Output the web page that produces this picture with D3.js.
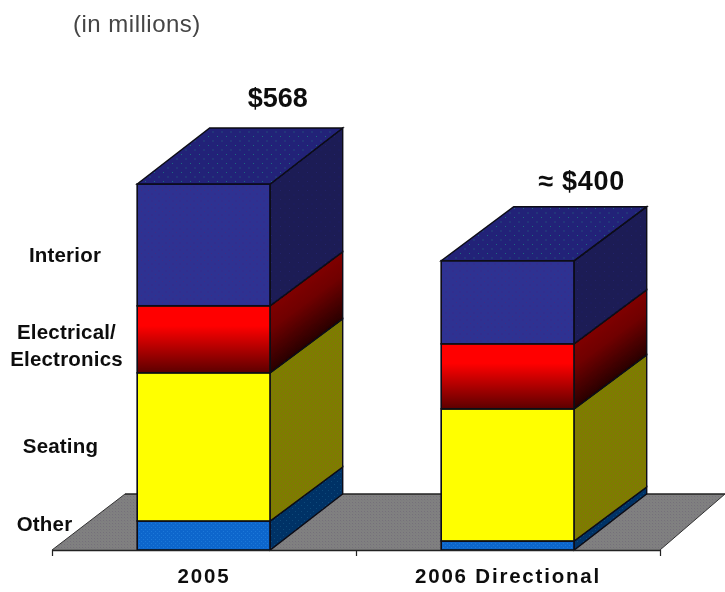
<!DOCTYPE html>
<html><head><meta charset="utf-8">
<script src="https://cdn.jsdelivr.net/npm/d3@7"></script>
<style>html,body{margin:0;padding:0;background:#fff}svg{display:block}text{font-family:"Liberation Sans",Arial,sans-serif}</style>
</head><body><div id="c"></div>
<script>
const categories = ["2005", "2006 Directional"];
const seriesNames = ["Other", "Seating", "Electrical/Electronics", "Interior"];
const other = [45, 14];
const seating = [230, 205];
const electrical = [104, 101];
const interior = [189, 129];
const totals = ["$568", "≈ $400"];
const title = "(in millions)";
const seriesLabels = [["Other"], ["Seating"], ["Electrical/", "Electronics"], ["Interior"]];

const W = 725, H = 592;
const svg = d3.select("#c").append("svg").attr("width", W).attr("height", H);
const defs = svg.append("defs");
const soft = defs.append("filter").attr("id", "soft").attr("x", 0).attr("y", 0).attr("width", 1).attr("height", 1);
soft.append("feGaussianBlur").attr("stdDeviation", 0.45);

const y = d3.scaleLinear().domain([0, 568]).range([550, 184]);
const xEdge = d3.scaleLinear().domain([0, 2]).range([52, 660]);
const x = d3.scaleBand().domain(categories).range([52, 660]).paddingInner(0).paddingOuter(0);
const barW = 133, depthX = 72.5, depthFloor = 56, depthInner = 54, depthTop = [56, 54];
const barX = c => x(c) + (x.bandwidth() - barW) / 2 - 0.3;

function stipple(id, base, dot, size) {
  const p = defs.append("pattern").attr("id", id).attr("patternUnits", "userSpaceOnUse").attr("width", size).attr("height", size);
  p.append("rect").attr("width", size).attr("height", size).attr("fill", base);
  p.append("rect").attr("x", 1).attr("y", 1).attr("width", 1).attr("height", 1).attr("fill", dot);
  p.append("rect").attr("x", 1 + size / 2).attr("y", 1 + size / 2).attr("width", 1).attr("height", 1).attr("fill", dot);
}
stipple("pFloor", "#808080", "#74707a", 3);
stipple("pBlue", "#2e3092", "#412c84", 7);
stipple("pBlueTop", "#232378", "#1f6a80", 9);
stipple("pBlueSide", "#1a1a55", "#22226a", 9);
stipple("pOlive", "#7d7d00", "#8a6c0a", 4);
stipple("pSky", "#0f66cc", "#1a78d8", 4);
stipple("pNavy", "#003366", "#0a4a7a", 6);

const front = { Other: "url(#pSky)", Seating: "#ffff00", Interior: "url(#pBlue)" };
const side = { Other: "url(#pNavy)", Seating: "url(#pOlive)", Interior: "url(#pBlueSide)" };

const g = svg.append("g").attr("filter", "url(#soft)");

// floor
const floorPts = [[xEdge(0), y(0)], [xEdge(0) + depthX + 0.5, y(0) - depthFloor], [xEdge(2) + 65, y(0) - depthFloor], [xEdge(2), y(0)]];
g.append("path").attr("d", d3.line()(floorPts) + "Z").attr("fill", "url(#pFloor)");
g.append("line").attr("x1", floorPts[1][0]).attr("x2", floorPts[2][0]).attr("y1", floorPts[1][1]).attr("y2", floorPts[1][1]).attr("stroke", "#222").attr("stroke-width", 1.3);
g.append("path").attr("d", d3.line()([floorPts[0], floorPts[1]])).attr("stroke", "#333").attr("fill", "none");
g.append("path").attr("d", d3.line()([floorPts[2], floorPts[3]])).attr("stroke", "#333").attr("fill", "none");

const stackInput = categories.map((c, i) => ({ c, Other: other[i], Seating: seating[i], "Electrical/Electronics": electrical[i], Interior: interior[i] }));
const layers = d3.stack().keys(seriesNames)(stackInput);

layers.forEach((layer, k) => {
  layer.forEach((d, i) => {
    const cat = d.data.c, x0 = barX(cat), x1 = x0 + barW, y0 = y(d[0]), y1 = y(d[1]);
    const dLow = k === 0 ? depthFloor : depthInner;
    const dHigh = k === layers.length - 1 ? depthTop[i] : depthInner;
    let fFill = front[layer.key], sFill = side[layer.key];
    if (layer.key === "Electrical/Electronics") {
      const fid = "gf" + i, sid = "gs" + i;
      const gf = defs.append("linearGradient").attr("id", fid).attr("gradientUnits", "userSpaceOnUse").attr("x1", 0).attr("x2", 0).attr("y1", y1).attr("y2", y0);
      gf.append("stop").attr("offset", 0).attr("stop-color", "#ff0000");
      gf.append("stop").attr("offset", 0.3).attr("stop-color", "#ff0000");
      gf.append("stop").attr("offset", 1).attr("stop-color", "#5c0000");
      const slope = -Math.atan2(depthInner, depthX) * 180 / Math.PI;
      const gs = defs.append("linearGradient").attr("id", sid).attr("gradientUnits", "userSpaceOnUse").attr("x1", 0).attr("x2", 0).attr("y1", y1).attr("y2", y0)
        .attr("gradientTransform", `translate(${x1},0) skewY(${slope}) translate(${-x1},0)`);
      gs.append("stop").attr("offset", 0).attr("stop-color", "#7f0000");
      gs.append("stop").attr("offset", 0.35).attr("stop-color", "#700000");
      gs.append("stop").attr("offset", 1).attr("stop-color", "#280000");
      fFill = `url(#${fid})`; sFill = `url(#${sid})`;
    }
    g.append("rect").attr("x", x0).attr("y", y1).attr("width", barW).attr("height", y0 - y1)
      .attr("fill", fFill).attr("stroke", "#0a0a14").attr("stroke-width", 1.6);
    g.append("path").attr("d", d3.line()([[x1, y0], [x1, y1], [x1 + depthX, y1 - dHigh], [x1 + depthX, y0 - dLow]]) + "Z")
      .attr("fill", sFill).attr("stroke", "#0a0a14").attr("stroke-width", 1.4);
    if (layer.key === "Interior") {
      g.append("path").attr("d", d3.line()([[x0, y1], [x1, y1], [x1 + depthX, y1 - dHigh], [x0 + depthX, y1 - dHigh]]) + "Z")
        .attr("fill", "url(#pBlueTop)").attr("stroke", "#0a0a14").attr("stroke-width", 1.4);
    }
  });
});

// axis: category labels at band centres, ticks at band edges
const axisG = g.append("g").attr("transform", `translate(0,${y(0)})`);
const labelAxis = axisG.call(d3.axisBottom(x).tickSize(0).tickPadding(18));
labelAxis.select(".domain").attr("stroke", "#222").attr("stroke-width", 1.4);
labelAxis.selectAll("text").attr("font-size", 20.5).attr("font-weight", "bold").attr("letter-spacing", "1.8px").attr("fill", "#111")
  .attr("font-family", '"Liberation Sans",Arial,sans-serif');
const tickG = g.append("g").attr("transform", `translate(0,${y(0)})`)
  .call(d3.axisBottom(xEdge).tickValues([0, 1, 2]).tickSize(6).tickFormat(""));
tickG.select(".domain").remove();
tickG.selectAll("line").attr("stroke", "#222").attr("stroke-width", 1.2);

// series labels, anchored to the 2005 stack
const labelG = g.append("g").attr("font-weight", "bold").attr("font-size", 20.5).attr("letter-spacing", "0.2px").attr("fill", "#111").attr("text-anchor", "middle");
const labelCx = [44.5, 60.5, 66.5, 65], labelDy = [-11, 0, 7, 11];
layers.forEach((layer, k) => {
  const d = layer[0], cy = y((d[0] + d[1]) / 2) + labelDy[k];
  const lines = seriesLabels[k];
  lines.forEach((t, j) => {
    labelG.append("text").attr("x", labelCx[k]).attr("y", cy + (j - (lines.length - 1) / 2) * 27 + 6).text(t);
  });
});

// totals
const totalGap = [21, 17];
categories.forEach((c, i) => {
  const top = y(d3.sum([other[i], seating[i], electrical[i], interior[i]]));
  g.append("text").attr("x", barX(c) + barW / 2 + 74).attr("y", top - depthTop[i] - totalGap[i])
    .attr("text-anchor", "middle").attr("font-size", 27).attr("font-weight", "bold").attr("letter-spacing", i ? "0.7px" : "0").attr("fill", "#111").text(totals[i]);
});

g.append("text").attr("x", 73).attr("y", 32).attr("font-size", 24).attr("letter-spacing", "0.5px").attr("fill", "#444").text(title);
</script></body></html>
